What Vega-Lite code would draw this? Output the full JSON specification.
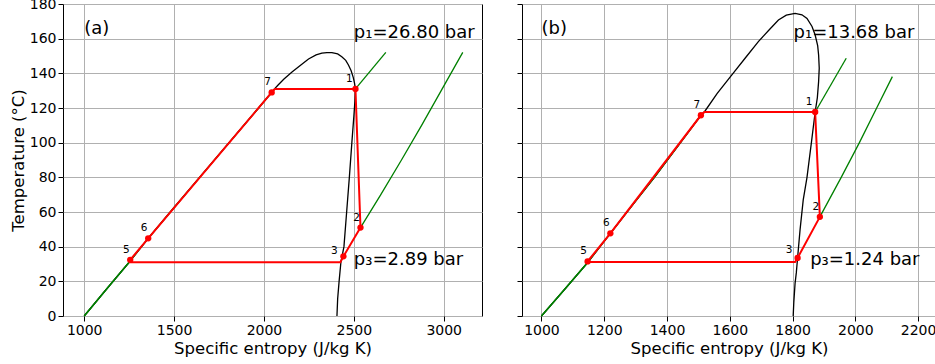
{
  "$schema": "https://vega.github.io/schema/vega-lite/v6.json",
  "background": "white",
  "padding": {"left": 9, "top": -4, "right": 0, "bottom": 0},
  "spacing": 33,
  "config": {
    "font": "DejaVu Sans",
    "view": {"stroke": "black", "strokeWidth": 1},
    "axis": {
      "grid": true, "gridColor": "#b0b0b0", "gridWidth": 1,
      "domain": false, "ticks": true, "tickColor": "black", "tickSize": 5, "tickWidth": 1,
      "labelFont": "DejaVu Sans", "labelFontSize": 14, "labelColor": "black", "labelPadding": 2,
      "titleFont": "DejaVu Sans", "titleFontSize": 16.5, "titleFontWeight": "normal", "titleColor": "black", "titlePadding": 3,
      "labelFlush": false, "format": "d"
    }
  },
  "datasets": {
    "domeA": [
      {"i":0,"s":1000,"T":0},{"i":1,"s":1120,"T":15},{"i":2,"s":1250,"T":31},{"i":3,"s":1356,"T":44.8},{"i":4,"s":1479,"T":60},{"i":5,"s":1642,"T":80},{"i":6,"s":1806,"T":100},{"i":7,"s":1970,"T":120},{"i":8,"s":2043,"T":129},{"i":9,"s":2060,"T":131.2},{"i":10,"s":2080,"T":133.4},{"i":11,"s":2110,"T":136.6},{"i":12,"s":2156,"T":140.7},{"i":13,"s":2200,"T":144.4},{"i":14,"s":2248,"T":148.3},{"i":15,"s":2290,"T":150.6},{"i":16,"s":2322,"T":151.6},{"i":17,"s":2350,"T":152},{"i":18,"s":2378,"T":151.9},{"i":19,"s":2410,"T":151.2},{"i":20,"s":2433,"T":149.6},{"i":21,"s":2455,"T":147.5},{"i":22,"s":2470,"T":144.8},{"i":23,"s":2485,"T":141.5},{"i":24,"s":2497,"T":137.5},{"i":25,"s":2504,"T":134.2},{"i":26,"s":2509,"T":131},{"i":27,"s":2506,"T":124},{"i":28,"s":2500,"T":115},{"i":29,"s":2489,"T":100},{"i":30,"s":2475,"T":80},{"i":31,"s":2460,"T":60},{"i":32,"s":2445,"T":40},{"i":33,"s":2428,"T":31},{"i":34,"s":2418,"T":20},{"i":35,"s":2410,"T":10},{"i":36,"s":2406,"T":0}
    ],
    "isoA": [
      {"series":"liq_hi","i":0,"s":1000,"T":0},{"series":"liq_hi","i":1,"s":1120,"T":15},{"series":"liq_hi","i":2,"s":1250,"T":31},{"series":"liq_hi","i":3,"s":1356,"T":44.8},{"series":"liq_hi","i":4,"s":1479,"T":60},{"series":"liq_hi","i":5,"s":1642,"T":80},{"series":"liq_hi","i":6,"s":1806,"T":100},{"series":"liq_hi","i":7,"s":1970,"T":120},{"series":"liq_hi","i":8,"s":2043,"T":129},{"series":"liq_hi","i":9,"s":2060,"T":131},
      {"series":"liq_lo","i":0,"s":1000,"T":0},{"series":"liq_lo","i":1,"s":1120,"T":15},{"series":"liq_lo","i":2,"s":1250,"T":31},
      {"series":"vap_hi","i":0,"s":2509,"T":131},{"series":"vap_hi","i":1,"s":2678,"T":152.1},
      {"series":"vap_lo","i":0,"s":2537,"T":51},{"series":"vap_lo","i":1,"s":2650,"T":70},{"series":"vap_lo","i":2,"s":2765,"T":90},{"series":"vap_lo","i":3,"s":2877,"T":110},{"series":"vap_lo","i":4,"s":2986,"T":130},{"series":"vap_lo","i":5,"s":3106,"T":152.1}
    ],
    "cycleA": [
      {"i":0,"s":2509,"T":131},{"i":1,"s":2537,"T":51},{"i":2,"s":2442,"T":34.4},{"i":3,"s":2425,"T":31},{"i":4,"s":1257,"T":31},{"i":5,"s":1256,"T":32.4},{"i":6,"s":1356,"T":44.8},{"i":7,"s":2043,"T":129},{"i":8,"s":2060,"T":131},{"i":9,"s":2509,"T":131}
    ],
    "ptsA": [
      {"pt":"1","s":2509,"T":131},{"pt":"2","s":2537,"T":51},{"pt":"3","s":2442,"T":34.4},{"pt":"5","s":1256,"T":32.4},{"pt":"6","s":1356,"T":44.8},{"pt":"7","s":2043,"T":129}
    ],
    "notesA": [
      {"label":"(a)","s":1000,"T":165.6},{"label":"p₁=26.80 bar","s":2500,"T":163.3},{"label":"p₃=2.89 bar","s":2500,"T":32.3}
    ],
    "domeB": [
      {"i":0,"s":1000,"T":0},{"i":1,"s":1072,"T":15},{"i":2,"s":1148,"T":31},{"i":3,"s":1219.5,"T":47.7},{"i":4,"s":1290,"T":64},{"i":5,"s":1360,"T":80},{"i":6,"s":1443,"T":100},{"i":7,"s":1508,"T":115.8},{"i":8,"s":1519,"T":117.7},{"i":9,"s":1560,"T":128.5},{"i":10,"s":1606,"T":139},{"i":11,"s":1650,"T":149},{"i":12,"s":1691,"T":158.3},{"i":13,"s":1725,"T":165},{"i":14,"s":1755,"T":170.8},{"i":15,"s":1780,"T":173.6},{"i":16,"s":1808,"T":174.6},{"i":17,"s":1830,"T":173.8},{"i":18,"s":1846,"T":171.7},{"i":19,"s":1862,"T":167},{"i":20,"s":1872,"T":162.1},{"i":21,"s":1880,"T":156},{"i":22,"s":1883,"T":150.6},{"i":23,"s":1885,"T":143},{"i":24,"s":1883,"T":135.2},{"i":25,"s":1879,"T":126},{"i":26,"s":1872,"T":117.7},{"i":27,"s":1860,"T":100},{"i":28,"s":1846,"T":80},{"i":29,"s":1834,"T":67},{"i":30,"s":1824,"T":50},{"i":31,"s":1816,"T":33.5},{"i":32,"s":1812,"T":25},{"i":33,"s":1808,"T":18.8},{"i":34,"s":1804,"T":8},{"i":35,"s":1802,"T":0}
    ],
    "isoB": [
      {"series":"liq_hi","i":0,"s":1000,"T":0},{"series":"liq_hi","i":1,"s":1072,"T":15},{"series":"liq_hi","i":2,"s":1148,"T":31},{"series":"liq_hi","i":3,"s":1219.5,"T":47.7},{"series":"liq_hi","i":4,"s":1290,"T":64},{"series":"liq_hi","i":5,"s":1360,"T":80},{"series":"liq_hi","i":6,"s":1443,"T":100},{"series":"liq_hi","i":7,"s":1508,"T":115.8},{"series":"liq_hi","i":8,"s":1519,"T":117.7},
      {"series":"liq_lo","i":0,"s":1000,"T":0},{"series":"liq_lo","i":1,"s":1072,"T":15},{"series":"liq_lo","i":2,"s":1148,"T":31},
      {"series":"vap_hi","i":0,"s":1872,"T":117.7},{"series":"vap_hi","i":1,"s":1971,"T":148.7},
      {"series":"vap_lo","i":0,"s":1887,"T":57.2},{"series":"vap_lo","i":1,"s":1955,"T":80},{"series":"vap_lo","i":2,"s":2013,"T":100},{"series":"vap_lo","i":3,"s":2068,"T":120},{"series":"vap_lo","i":4,"s":2118,"T":138.1}
    ],
    "cycleB": [
      {"i":0,"s":1872,"T":117.7},{"i":1,"s":1887,"T":57.2},{"i":2,"s":1816,"T":33.5},{"i":3,"s":1808,"T":31.1},{"i":4,"s":1150,"T":31.1},{"i":5,"s":1147,"T":31.5},{"i":6,"s":1219.5,"T":47.7},{"i":7,"s":1508,"T":115.8},{"i":8,"s":1519,"T":117.7},{"i":9,"s":1872,"T":117.7}
    ],
    "ptsB": [
      {"pt":"1","s":1872,"T":117.7},{"pt":"2","s":1887,"T":57.2},{"pt":"3","s":1816,"T":33.5},{"pt":"5","s":1147,"T":31.5},{"pt":"6","s":1219.5,"T":47.7},{"pt":"7","s":1508,"T":115.8}
    ],
    "notesB": [
      {"label":"(b)","s":1000,"T":165.6},{"label":"p₁=13.68 bar","s":1803,"T":163.3},{"label":"p₃=1.24 bar","s":1856,"T":32.3}
    ]
  },
  "hconcat": [
    {
      "width": 419, "height": 312,
      "encoding": {
        "x": {"field": "s", "type": "quantitative", "scale": {"domain": [882, 3213], "nice": false, "zero": false},
              "axis": {"title": "Specific entropy (J/kg K)", "values": [1000, 1500, 2000, 2500, 3000]}},
        "y": {"field": "T", "type": "quantitative", "scale": {"domain": [0, 180], "nice": false},
              "axis": {"title": "Temperature (°C)", "values": [0, 20, 40, 60, 80, 100, 120, 140, 160, 180]}}
      },
      "layer": [
        {"data": {"name": "domeA"}, "mark": {"type": "line", "color": "black", "strokeWidth": 1.3}, "encoding": {"order": {"field": "i", "type": "quantitative"}}},
        {"data": {"name": "isoA"}, "mark": {"type": "line", "color": "green", "strokeWidth": 1.3}, "encoding": {"detail": {"field": "series"}, "order": {"field": "i", "type": "quantitative"}}},
        {"data": {"name": "cycleA"}, "mark": {"type": "line", "color": "red", "strokeWidth": 2}, "encoding": {"order": {"field": "i", "type": "quantitative"}}},
        {"data": {"name": "ptsA"}, "mark": {"type": "circle", "color": "red", "opacity": 1, "size": 40}, "encoding": {}},
        {"data": {"name": "ptsA"}, "transform": [{"filter": "datum.pt != '3' && datum.pt != '1'"}], "mark": {"type": "text", "fontSize": 10.5, "dx": -4, "dy": -10, "color": "black"}, "encoding": {"text": {"field": "pt"}}},
        {"data": {"name": "ptsA"}, "transform": [{"filter": "datum.pt == '1'"}], "mark": {"type": "text", "fontSize": 10.5, "dx": -6, "dy": -10, "color": "black"}, "encoding": {"text": {"field": "pt"}}},
        {"data": {"name": "ptsA"}, "transform": [{"filter": "datum.pt == '3'"}], "mark": {"type": "text", "fontSize": 10.5, "dx": -9, "dy": -5.5, "color": "black"}, "encoding": {"text": {"field": "pt"}}},
        {"data": {"name": "notesA"}, "mark": {"type": "text", "fontSize": 18, "align": "left", "baseline": "middle", "color": "black"}, "encoding": {"text": {"field": "label"}}}
      ]
    },
    {
      "width": 414, "height": 312,
      "encoding": {
        "x": {"field": "s", "type": "quantitative", "scale": {"domain": [938, 2257], "nice": false, "zero": false},
              "axis": {"title": "Specific entropy (J/kg K)", "values": [1000, 1200, 1400, 1600, 1800, 2000, 2200]}},
        "y": {"field": "T", "type": "quantitative", "scale": {"domain": [0, 180], "nice": false},
              "axis": {"title": null, "labels": false, "values": [0, 20, 40, 60, 80, 100, 120, 140, 160, 180]}}
      },
      "layer": [
        {"data": {"name": "domeB"}, "mark": {"type": "line", "color": "black", "strokeWidth": 1.3}, "encoding": {"order": {"field": "i", "type": "quantitative"}}},
        {"data": {"name": "isoB"}, "mark": {"type": "line", "color": "green", "strokeWidth": 1.3}, "encoding": {"detail": {"field": "series"}, "order": {"field": "i", "type": "quantitative"}}},
        {"data": {"name": "cycleB"}, "mark": {"type": "line", "color": "red", "strokeWidth": 2}, "encoding": {"order": {"field": "i", "type": "quantitative"}}},
        {"data": {"name": "ptsB"}, "mark": {"type": "circle", "color": "red", "opacity": 1, "size": 40}, "encoding": {}},
        {"data": {"name": "ptsB"}, "transform": [{"filter": "datum.pt != '3' && datum.pt != '1'"}], "mark": {"type": "text", "fontSize": 10.5, "dx": -4, "dy": -10, "color": "black"}, "encoding": {"text": {"field": "pt"}}},
        {"data": {"name": "ptsB"}, "transform": [{"filter": "datum.pt == '1'"}], "mark": {"type": "text", "fontSize": 10.5, "dx": -6, "dy": -10, "color": "black"}, "encoding": {"text": {"field": "pt"}}},
        {"data": {"name": "ptsB"}, "transform": [{"filter": "datum.pt == '3'"}], "mark": {"type": "text", "fontSize": 10.5, "dx": -8.5, "dy": -7.5, "color": "black"}, "encoding": {"text": {"field": "pt"}}},
        {"data": {"name": "notesB"}, "mark": {"type": "text", "fontSize": 18, "align": "left", "baseline": "middle", "color": "black"}, "encoding": {"text": {"field": "label"}}}
      ]
    }
  ]
}
